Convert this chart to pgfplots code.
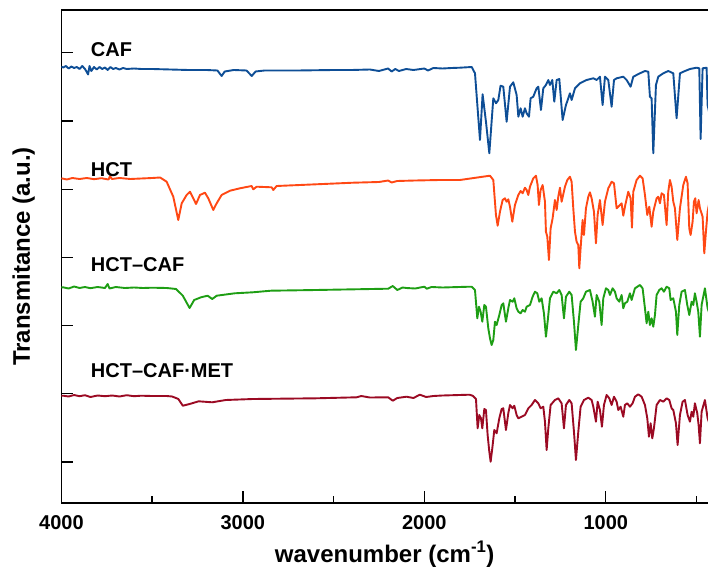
\documentclass[border=0pt]{standalone}
\usepackage{fontspec}
\setmainfont{Liberation Sans}
\usepackage{pgfplots}
\pgfplotsset{compat=1.18}
\definecolor{cafc}{RGB}{14,78,150}
\definecolor{hctc}{RGB}{255,72,20}
\definecolor{hcc}{RGB}{30,158,20}
\definecolor{metc}{RGB}{155,10,35}
\begin{document}
\begin{tikzpicture}
\begin{axis}[
  scale only axis, width=646.6pt, height=493pt,
  x dir=reverse, xmin=437, xmax=4000, ymin=0, ymax=493,
  axis x line*=box, axis y line*=left,
  axis line style={line width=1.4pt},
  tick pos=left, tick align=inside,
  major tick length=12pt, minor tick length=7pt,
  every tick/.style={black, line width=1.3pt},
  xtick={1000,2000,3000,4000}, xticklabels={1000,2000,3000,4000},
  minor xtick={500,1500,2500,3500},
  ytick={41,109.2,177.4,245.6,313.8,382,450.2}, yticklabels={},
  xticklabel style={font=\fontsize{20}{22}\selectfont\bfseries, inner sep=0pt, anchor=north, yshift=-12pt},
  xlabel={wavenumber (cm\textsuperscript{-1})},
  ylabel={Transmitance (a.u.)},
  every axis x label/.style={at={(axis description cs:0.5,-0.1197)}, anchor=base, inner sep=0pt, font=\fontsize{24}{26}\selectfont\bfseries},
  every axis y label/.style={at={(axis description cs:-0.0408,0.5)}, anchor=south, rotate=90, inner sep=0pt, font=\fontsize{24}{26}\selectfont\bfseries},
  every axis plot/.append style={line width=1.9pt, line join=round, mark=none},
]
\coordinate (bl) at (rel axis cs:0,0);
\coordinate (tr) at (rel axis cs:1,1);
% CAF
\addplot[cafc] coordinates {
(4000,436.3)(3990,435.5)(3975,437)(3960,434.5)(3945,436.5)(3930,435)(3915,436)(3900,434)(3885,437)(3870,434)(3860,431)(3853,428.5)(3845,437)(3835,432)(3820,436)(3805,433.5)(3790,436)(3775,434)(3760,435.5)(3745,433)(3730,436)(3715,434)(3700,435)(3680,433.5)(3660,435)(3640,434)(3600,434.5)(3560,434)(3500,434)(3400,433.5)(3300,433)(3200,433)(3140,432.5)(3117,427)(3100,431.5)(3050,433)(2980,432.5)(2951,427)(2930,431.5)(2880,432.5)(2700,432.5)(2500,433)(2400,433)(2300,433.5)(2250,432)(2200,434.5)(2180,431.5)(2160,434)(2140,432)(2100,434)(2060,433)(2000,434.5)(1980,432.5)(1950,435)(1900,434.5)(1850,435)
(1804,435.3)(1739,436)(1721,429.7)(1693.5,363)(1679,408.7)(1660.5,381.3)(1642,349.7)(1620,404.7)(1605,399.7)(1592.5,403)(1580,417.3)(1565,416.3)(1546.6,381.3)(1528,416.3)(1510,420.7)(1491.5,408)(1482,386.3)(1469.5,394.7)(1458.4,386.3)(1445.6,394.7)(1436.4,389.7)(1423.5,386.3)(1414.4,404.7)(1399.7,406.3)(1381.3,414.7)(1372,416.3)(1357.4,393)(1344.6,414.7)(1330,418)(1317,423)(1308,418)(1295,423)(1284,401.3)(1271,423)(1256.4,424)(1238,383)(1219.7,398)(1206.8,404.7)(1197.7,409.7)(1188.5,403)(1170,414.7)(1142.6,419.7)(1105.8,423)(1069,424.7)(1050.7,423)(1032.4,426.3)(1017.7,398)(1004.8,426.3)(986.5,423)(968,396.3)(955,423)(940.5,424.7)(903.8,426.3)(885.4,423)(863.4,416.3)(848.7,426.3)(812,429.7)(784.4,432)(766,431.3)(757,406.3)(747.7,404.7)(738.5,349.7)(723.8,418)(711,426.3)(683.4,429.7)(656,432)(628.3,429.7)(610,384.7)(591.6,429.7)(564,432)(536.5,434)(499.8,435.3)(485,434.7)(477.7,364)(466.7,434.7)(444.7,435.3)(439.2,398)(430,390)
};
% HCT
\addplot[hctc] coordinates {
(4000,324.7)(3970,323.5)(3940,325)(3900,324)(3860,325)(3820,323.8)(3780,324.8)(3740,323.5)(3732,327)(3722,324)(3680,325)(3620,324)(3560,324.5)(3500,325)(3456,325.5)(3420,321.3)(3383.5,306.3)(3356,283)(3337,299.7)(3310,308)(3291.4,311.3)(3258,299)(3236.3,308)(3209,310.3)(3190.6,304.7)(3163,293)(3144.4,299.7)(3117,308)(3071,312.3)(3016,314.7)(2951.5,317)(2942.6,313.7)(2924,316.3)(2841.3,315.7)(2832.5,313)(2814,317)(2685.4,318)(2391.7,320.3)(2250,321)(2200,322.5)(2180,320.5)(2150,322)(2050,322.5)(1915,323)
(1804,323)(1638.4,327.3)(1620,323)(1605.4,288)(1596,277.3)(1583.3,291.3)(1568.6,303)(1555.8,304.7)(1546.6,301.3)(1537.4,303.7)(1528.2,296.3)(1515.4,281.3)(1500.7,298)(1482.3,308)(1469.5,312)(1458.4,309.7)(1445.6,315.3)(1436.4,313)(1427.2,308)(1418,316.3)(1399.7,324.7)(1385,327.3)(1375.8,318)(1368.5,298)(1359.3,313)(1348.2,318)(1335.4,301.3)(1330,271.3)(1322.5,266.3)(1313.4,243)(1304.2,274.7)(1293.2,284.7)(1280.3,303)(1271,293)(1262,306.3)(1252.7,315.3)(1243.6,301.3)(1225.2,316.3)(1212.3,323)(1197.7,326.3)(1188.5,321.3)(1179.3,294.7)(1170,271.3)(1161,261.3)(1151.7,258)(1146.2,234.7)(1139,254.7)(1128,283)(1120.5,268)(1109.5,294.7)(1096.6,306.3)(1087.5,310.7)(1078.3,304.7)(1065.4,291.3)(1054.4,259.7)(1045.2,288)(1032.4,303)(1017.7,278)(1004.8,301.3)(986.5,314.7)(968,321.3)(955,319.7)(940.5,294.7)(922.2,298)(913,299.7)(903.8,287.3)(892.8,298)(876.3,311.3)(863.4,304.7)(856,275.3)(848.7,311.3)(830.4,323)(812,327.3)(797.3,324.7)(784.4,308)(771.6,288)(760.6,296.3)(747.7,276.3)(738.5,291.3)(720.2,304.7)(711,306.3)(701.8,299.7)(692.6,309.7)(679.8,308)(665.1,278)(656,311.3)(646.7,323)(637.5,316.3)(628.3,301.3)(619.2,294.7)(606.3,263)(591.6,294.7)(573.2,318)(558.6,326.3)(549.4,319.7)(540.2,274.7)(532.8,268)(521.8,281.3)(514.5,301.3)(507.1,304.7)(499.8,289.7)(488.7,303)(481.4,294.7)(466.7,286.3)(457.5,249.7)(448.4,271.3)(439.2,291.3)(430,300)
};
% HCT-CAF
\addplot[hcc] coordinates {
(4000,215.7)(3990,215.7)(3960,214.5)(3930,216.5)(3900,215)(3870,216)(3840,214.8)(3800,216)(3760,215)(3745,219)(3735,214.5)(3700,216)(3650,215)(3600,215.5)(3550,215)(3500,215.3)(3420,215)(3393,214.5)(3368,214)(3331,207.3)(3293.6,195)(3268.3,203)(3231,205.7)(3194,207.3)(3169,204)(3144,207.3)(3044.6,209.7)(2945,210.7)(2845.6,212.3)(2597,213)(2199,214.3)(2174,217)(2149,213)(2120,215.5)(2099,215)(2050,214.5)(2000,216.3)(1987,214.3)(1960,216)(1900,215.5)(1751,216.3)
(1739.4,216.3)(1721,213)(1708.2,184.7)(1699,196.3)(1689.8,191.3)(1680.7,181.3)(1669.6,198)(1660.5,196.3)(1647.6,174.7)(1638.4,164.7)(1629.2,158)(1620,163)(1610.9,181.3)(1601.7,178)(1587,188)(1574,198)(1565,199.7)(1550.3,181.3)(1537.4,194.7)(1528.2,203)(1513.5,201.3)(1504.4,204.7)(1491.5,194.7)(1482.3,191.3)(1469.5,189.7)(1458.4,193)(1445.6,191.3)(1436.4,196.3)(1418,198)(1403.3,206.3)(1390.5,211.3)(1377.6,209.7)(1366.6,201.3)(1353.8,204.7)(1341,189.7)(1330,166.3)(1320.7,181.3)(1307.8,204.7)(1289.5,211.3)(1271,209.7)(1256.4,213)(1243.6,208)(1230.7,184.7)(1219.7,206.3)(1201.3,211.3)(1188.5,208)(1175.6,181.3)(1164.6,153)(1151.7,178)(1138.9,201.3)(1124.2,204.7)(1109.5,211.3)(1087.5,213)(1072.8,201.3)(1060,186.3)(1050.7,208)(1036,201.3)(1023.2,178)(1014,204.7)(999.3,214.7)(986.5,213)(977.3,208)(962.6,214.7)(949.7,211.3)(940.5,204.7)(925.9,201.3)(913,208)(903.8,194.7)(894.6,199.7)(881.8,201.3)(867.1,209.7)(857.9,203)(839.5,214.7)(812,218)(797.3,214.7)(784.4,194.7)(775.3,179.7)(766,191.3)(757,178)(747.7,184.7)(738.5,176.3)(729.3,188)(720.2,208)(705.5,213)(692.6,214.7)(679.8,211.3)(665.1,216.3)(650.4,214.7)(643,203)(628.3,204.7)(613.6,191.3)(606.3,168)(595.3,198)(582.4,211.3)(564,213)(551.2,198)(540.2,188)(527.3,201.3)(518.1,198)(509,209.7)(499.8,201.3)(490.6,191.3)(481.4,166.3)(472.2,198)(453.9,214.7)(439.2,194.7)(430,190)
};
% HCT-CAF.MET
\addplot[metc] coordinates {
(4000,107.3)(3990,107.3)(3960,106.5)(3930,108)(3900,106.8)(3870,107.8)(3840,106)(3800,107.5)(3760,106.8)(3720,107.5)(3680,106.5)(3640,107.8)(3600,106.8)(3560,107.3)(3500,107)(3420,107)(3390,106.5)(3355.5,104)(3331,97.3)(3293.6,99)(3243.6,101.7)(3169,100.7)(3094.4,103)(2945,104)(2597,104.7)(2373,105.7)(2348,107)(2300,105.5)(2199,105.7)(2174,102.3)(2149,105)(2099,106.3)(2060,105)(2025,108.3)(1990,106)(1950,107)(1900,107.5)(1751,108.3)
(1734,107.3)(1715.5,104)(1706.4,74.7)(1697.2,88)(1688,84.7)(1680.7,74.7)(1669.6,94)(1660.5,93)(1651.3,68)(1642,51.3)(1634.7,41.3)(1625.6,54.7)(1614.5,73)(1601.7,69.7)(1587,84.7)(1574,94)(1565,94.7)(1550.3,73)(1537.4,89.7)(1528.2,98)(1513.5,94.7)(1504.4,97.3)(1491.5,88)(1482.3,84.7)(1463.9,86.3)(1445.6,88)(1427.2,94.7)(1408.9,98)(1390.5,103)(1372,99.7)(1359.3,94.7)(1344.6,96.3)(1335.4,81.3)(1326.2,53)(1317,74.7)(1304.2,98)(1280.3,103)(1262,104.7)(1243.6,99.7)(1230.7,74.7)(1219.7,98)(1201.3,103)(1188.5,99.7)(1175.6,71.3)(1164.6,43)(1151.7,71.3)(1138.9,96.3)(1120.5,103)(1096.6,105.3)(1078.3,103)(1069,96.3)(1054.4,81.3)(1045.2,101.3)(1032.4,93)(1021.4,76.3)(1010.3,98)(995.6,108)(980.9,104.7)(968,98)(955,106.3)(940.5,101.3)(931.4,93)(918.5,96.3)(903.8,86.3)(894.6,98)(881.8,99.7)(867.1,96.3)(852.4,99.7)(839.5,106.3)(821.2,108.7)(802.8,106.3)(784.4,98)(771.6,84.7)(762.4,66.3)(753.2,79.7)(744,64.7)(734.9,74.7)(720.2,98)(701.8,103)(683.4,101.3)(665.1,104.7)(650.4,103)(637.5,94.7)(628.3,93)(613.6,79.7)(604.5,58)(591.6,88)(576.9,101.3)(564,103)(549.4,88)(536.5,81.3)(527.3,91.3)(518.1,86.3)(509,99.7)(496.1,89.7)(488.7,78)(481.4,59.7)(472.2,91.3)(453.9,103)(439.2,84.7)(430,80)
};
\node[anchor=base west, inner sep=0pt, font=\fontsize{20}{22}\selectfont\bfseries] at (axis cs:3838,446.3) {CAF};
\node[anchor=base west, inner sep=0pt, font=\fontsize{20}{22}\selectfont\bfseries] at (axis cs:3838,326.3) {HCT};
\node[anchor=base west, inner sep=0pt, font=\fontsize{20}{22}\selectfont\bfseries] at (axis cs:3838,231.3) {HCT–CAF};
\node[anchor=base west, inner sep=0pt, font=\fontsize{20}{22}\selectfont\bfseries] at (axis cs:3838,126) {HCT–CAF·MET};
\end{axis}
\pgfresetboundingbox
\path ([xshift=-61.4pt,yshift=-65pt]bl) rectangle ([yshift=10pt]tr);
\end{tikzpicture}
\end{document}
